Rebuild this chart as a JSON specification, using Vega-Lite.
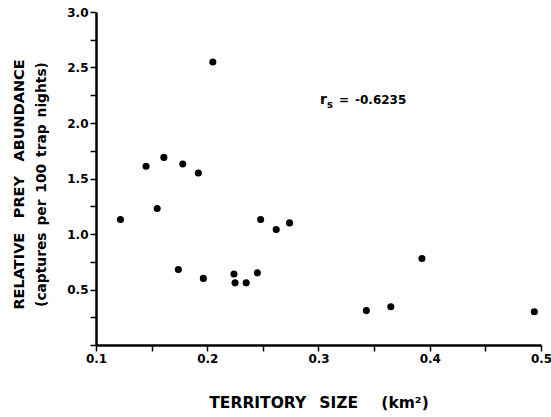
{
  "$schema": "https://vega.github.io/schema/vega-lite/v6.json",
  "width": 445,
  "height": 333,
  "autosize": {"type": "none"},
  "padding": {"left": 96, "top": 12, "right": 10, "bottom": 72},
  "background": "white",
  "config": {"view": {"stroke": null}, "font": "DejaVu Sans"},
  "datasets": {
    "points": [
      {"size": 0.122, "abundance": 1.13},
      {"size": 0.145, "abundance": 1.61},
      {"size": 0.161, "abundance": 1.69},
      {"size": 0.178, "abundance": 1.63},
      {"size": 0.192, "abundance": 1.55},
      {"size": 0.205, "abundance": 2.55},
      {"size": 0.155, "abundance": 1.23},
      {"size": 0.248, "abundance": 1.13},
      {"size": 0.262, "abundance": 1.04},
      {"size": 0.274, "abundance": 1.10},
      {"size": 0.174, "abundance": 0.68},
      {"size": 0.1965, "abundance": 0.60},
      {"size": 0.224, "abundance": 0.64},
      {"size": 0.225, "abundance": 0.56},
      {"size": 0.235, "abundance": 0.56},
      {"size": 0.245, "abundance": 0.65},
      {"size": 0.343, "abundance": 0.31},
      {"size": 0.365, "abundance": 0.345},
      {"size": 0.393, "abundance": 0.78},
      {"size": 0.494, "abundance": 0.30}
    ],
    "note": [{"stat": "rs", "value": "-0.6235"}]
  },
  "resolve": {"axis": {"y": "independent"}},
  "layer": [
    {
      "data": {"name": "points"},
      "mark": {"type": "circle", "size": 50, "color": "black", "opacity": 1},
      "encoding": {
        "x": {
          "field": "size", "type": "quantitative",
          "scale": {"domain": [0.1, 0.5], "nice": false, "zero": false},
          "axis": {
            "values": [0.1, 0.15, 0.2, 0.25, 0.3, 0.35, 0.4, 0.45, 0.5],
            "labelExpr": "round(datum.value*20)%2==0 ? format(datum.value,'.1f') : ''",
            "grid": false,
            "domainColor": "black", "domainWidth": 2.5,
            "tickColor": "black", "tickWidth": 1.5, "tickSize": 6,
            "labelColor": "black", "labelFontSize": 12, "labelFontWeight": "bold", "labelPadding": 2,
            "labelFlush": false,
            "title": "TERRITORY\u2002 SIZE\u2003\u2002(km²)",
            "titleColor": "black", "titleFontSize": 15.5, "titleFontWeight": "bold", "titlePadding": 31
          }
        },
        "y": {
          "field": "abundance", "type": "quantitative",
          "scale": {"domain": [0, 3], "nice": false},
          "axis": {
            "orient": "left",
            "values": [0, 0.25, 0.5, 0.75, 1, 1.25, 1.5, 1.75, 2, 2.25, 2.5, 2.75, 3],
            "labelExpr": "datum.value > 0 && round(datum.value*4)%2==0 ? format(datum.value,'.1f') : ''",
            "grid": false,
            "domainColor": "black", "domainWidth": 2.5,
            "tickColor": "black", "tickWidth": 1.5, "tickSize": 6,
            "labelColor": "black", "labelFontSize": 12, "labelFontWeight": "bold", "labelPadding": 2,
            "labelFlush": false,
            "title": "(captures\u2002per\u2002100\u2002trap\u2002nights)",
            "titleColor": "black", "titleFontSize": 13.8, "titleFontWeight": "bold",
            "titlePadding": 18, "titleY": 172
          }
        }
      }
    },
    {
      "data": {"name": "note"},
      "mark": {"type": "text", "align": "left", "baseline": "alphabetic", "fontSize": 14, "fontWeight": "bold", "color": "black"},
      "encoding": {
        "x": {"datum": 0.3013, "type": "quantitative"},
        "y": {
          "datum": 2.17, "type": "quantitative",
          "axis": {
            "orient": "left", "domain": false, "ticks": false, "labels": false, "grid": false,
            "title": "RELATIVE\u2002\u2002PREY\u2002\u2002ABUNDANCE",
            "titleColor": "black", "titleFontSize": 14.5, "titleFontWeight": "bold",
            "titlePadding": 70, "titleY": 172
          }
        },
        "text": {"value": "r"}
      }
    },
    {
      "data": {"name": "note"},
      "mark": {"type": "text", "align": "left", "baseline": "alphabetic", "fontSize": 10, "fontWeight": "bold", "color": "black", "dx": 7, "dy": 4},
      "encoding": {
        "x": {"datum": 0.3013, "type": "quantitative"},
        "y": {"datum": 2.17, "type": "quantitative", "axis": null},
        "text": {"value": "s"}
      }
    },
    {
      "data": {"name": "note"},
      "mark": {"type": "text", "align": "left", "baseline": "alphabetic", "fontSize": 12, "fontWeight": "bold", "color": "black", "dx": 19},
      "encoding": {
        "x": {"datum": 0.3013, "type": "quantitative"},
        "y": {"datum": 2.17, "type": "quantitative", "axis": null},
        "text": {"value": "=\u2002-0.6235"}
      }
    }
  ]
}
